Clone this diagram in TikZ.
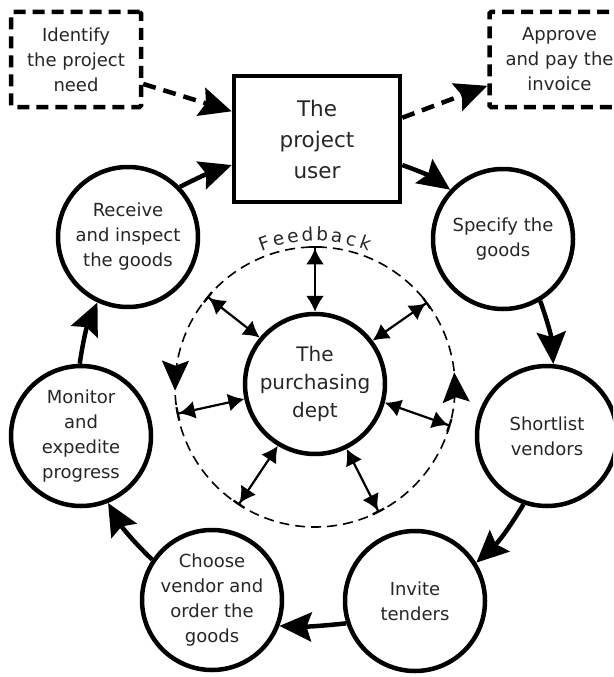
\documentclass[tikz,border=0pt]{standalone}
\usepackage{fontspec}
\setmainfont{DejaVu Sans}
\usepackage{tikz}
\usetikzlibrary{arrows.meta,positioning,calc}
\definecolor{ink}{HTML}{000000}
\definecolor{txt}{HTML}{262626}
\tikzset{
  stage/.style={circle,draw=ink,line width=4.5pt,minimum size=140pt,inner sep=0pt,
    align=center,text=txt,font=\fontsize{18}{25}\selectfont},
  hub/.style={stage,font=\fontsize{20}{28}\selectfont},
  userbox/.style={draw=ink,line width=4.5pt,minimum width=166pt,minimum height=126pt,
    align=center,text=txt,font=\fontsize{21.5}{31}\selectfont},
  extbox/.style={draw=ink,line width=4.5pt,dash pattern=on 12pt off 7pt,rounded corners=1.5pt,
    minimum width=130pt,minimum height=95pt,align=center,text=txt,font=\fontsize{18}{25}\selectfont},
  cyc/.style={-{Stealth[length=32pt,width=29pt,inset=5pt]},line width=4.5pt,draw=ink},
  dflow/.style={cyc,dash pattern=on 13pt off 8pt},
  fbarrow/.style={{Bar[width=13pt]Latex[length=16pt,width=18pt]}-{Latex[length=16pt,width=18pt]},
    line width=2.2pt,draw=ink},
  % --- dashed feedback ring and its running heads ---
  ring/.style={circle,draw=ink,line width=1.6pt,dash pattern=on 10pt off 6pt,
    minimum size=280pt,inner sep=0pt},
  ringhead/.style={-{Stealth[length=30pt,width=27pt,inset=5pt]},line width=1.6pt,draw=ink},
  fbletter/.style={font=\fontsize{18.5}{18.5}\selectfont,text=txt,anchor=base,inner sep=0pt},
}

\begin{document}
\begin{tikzpicture}[x=1pt,y=-1pt]
  \useasboundingbox (0,0) rectangle (613,677);
  \clip (0,0) rectangle (613,677);
  \node[ring](fb) at (315,387){};
  \node[hub](purch) at (315,384){The\\purchasing\\dept};
  \node[userbox](user) at (317,139){The\\project\\user};
  \node[extbox](ident) at (76,59.5){Identify\\the project\\need};
  \node[extbox,minimum width=140pt](approve) at (559.5,59.5){Approve\\and pay the\\invoice};
  \node[stage](spec) at (503,239){Specify the\\goods};
  \node[stage](short) at (547,436){Shortlist\\vendors};
  \node[stage](invite) at (415,601){Invite\\tenders};
  \node[stage](choose) at (212,600){Choose\\vendor and\\order the\\goods};
  \node[stage](monitor) at (81,436){Monitor\\and\\expedite\\progress};
  \node[stage](recv) at (128,237){Receive\\and inspect\\the goods};
  % the purchasing cycle
  \draw[cyc] (user.-17) to[bend left=8] (spec.137);
  \draw[cyc] (spec.-59) to[bend left=8] (short.85);
  \draw[cyc] (short.-109) to[bend left=8] (invite.32);
  \draw[cyc] (invite.-162) to[bend left=4] (choose.-21);
  \draw[cyc] (choose.146) to[bend left=8] (monitor.-68);
  \draw[cyc] (monitor.91) to[bend left=8] (recv.-115);
  \draw[cyc] (recv.44) to[bend left=4] (user.197);
  \draw[dflow] (ident.-20) -- (user.162);
  \draw[dflow] (user.14) -- (approve.-160);
  % heads running round the ring
  \coordinate (l1) at ($(fb.center)+(177:140pt)$);
  \coordinate (l2) at ($(fb.center)+(181.5:140pt)$);
  \coordinate (r1) at ($(fb.center)+(1.5:140pt)$);
  \coordinate (r2) at ($(fb.center)+(6:140pt)$);
  \draw[ringhead] (l1) -- (l2);
  \draw[ringhead] (r1) -- (r2);
  % feedback spokes
  \foreach \a/\b in {90/90,140/140,37/37,191/192,-16/-15,-123/-121,-63/-64}
    \draw[fbarrow] (fb.\a) -- (purch.\b);
  \foreach \ch [count=\i from 0] in {F,e,e,d,b,a,c,k}
    \node[fbletter,rotate={19.5-5.55*\i}] at ($(fb.center)+({109.5-5.55*\i}:146pt)$){\ch};
\end{tikzpicture}
\end{document}
